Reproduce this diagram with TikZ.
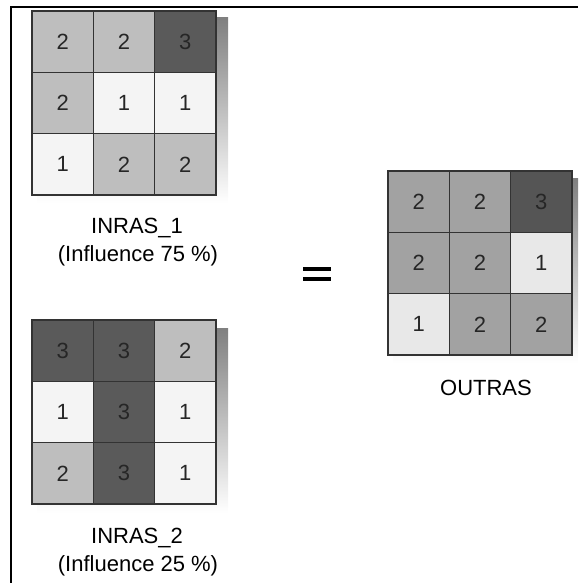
\documentclass[tikz,border=0pt]{standalone}
\usepackage{fontspec}
\setmainfont{Liberation Sans}
\definecolor{in1}{HTML}{F4F4F4}
\definecolor{in2}{HTML}{BEBEBE}
\definecolor{in3}{HTML}{5A5A5A}
\definecolor{out1}{HTML}{E8E8E8}
\definecolor{out2}{HTML}{A2A2A2}
\definecolor{out3}{HTML}{555555}
\definecolor{shade}{HTML}{ABABAB}
\tikzset{
  cell/.style={draw=black!80, line width=1.3pt, minimum size=61.33pt, inner sep=0pt,
    text=black!85, font=\fontsize{22}{26}\selectfont},
  label/.style={inner sep=0pt, font=\fontsize{22}{26}\selectfont},
}

\begin{document}
\begin{tikzpicture}[x=1pt,y=-1pt]
  \useasboundingbox (0,0) rectangle (578,583);
  \draw[line width=2pt] (10,7.5) -- (578,7.5);
  \draw[line width=2pt] (11,7) -- (11,583);
  \fill[shade] (37,18) rectangle (228,203);
  \fill[shade] (37,328) rectangle (228,513);
  \fill[shade] (393,178) rectangle (578,363);
  \foreach \v [count=\i from 0] in {2,2,3,2,1,1,1,2,2} {
    \pgfmathtruncatemacro\c{mod(\i,3)} \pgfmathtruncatemacro\r{div(\i,3)}
    \node[cell, fill=in\v] (ina\i) at ({62.67+61.33*\c},{41.67+61.33*\r}) {\v};
  }
  \foreach \v [count=\i from 0] in {3,3,2,1,3,1,2,3,1} {
    \pgfmathtruncatemacro\c{mod(\i,3)} \pgfmathtruncatemacro\r{div(\i,3)}
    \node[cell, fill=in\v] (inb\i) at ({62.67+61.33*\c},{350.67+61.33*\r}) {\v};
  }
  \foreach \v [count=\i from 0] in {2,2,3,2,2,1,1,2,2} {
    \pgfmathtruncatemacro\c{mod(\i,3)} \pgfmathtruncatemacro\r{div(\i,3)}
    \node[cell, fill=out\v] (out\i) at ({418.67+61.33*\c},{201.67+61.33*\r}) {\v};
  }
  \node[label] (namea) at (137,228) {INRAS\_1};
  \node[label] (infla) at (138,256) {(Influence 75 \%)};
  \node[label] (nameb) at (137,538) {INRAS\_2};
  \node[label] (inflb) at (138,566) {(Influence 25 \%)};
  \node[label] (nameo) at (486,388) {OUTRAS};
  \draw[line width=4pt] (303,268.7) -- (331,268.7);
  \draw[line width=4pt] (303,279) -- (331,279);
\end{tikzpicture}
\end{document}
